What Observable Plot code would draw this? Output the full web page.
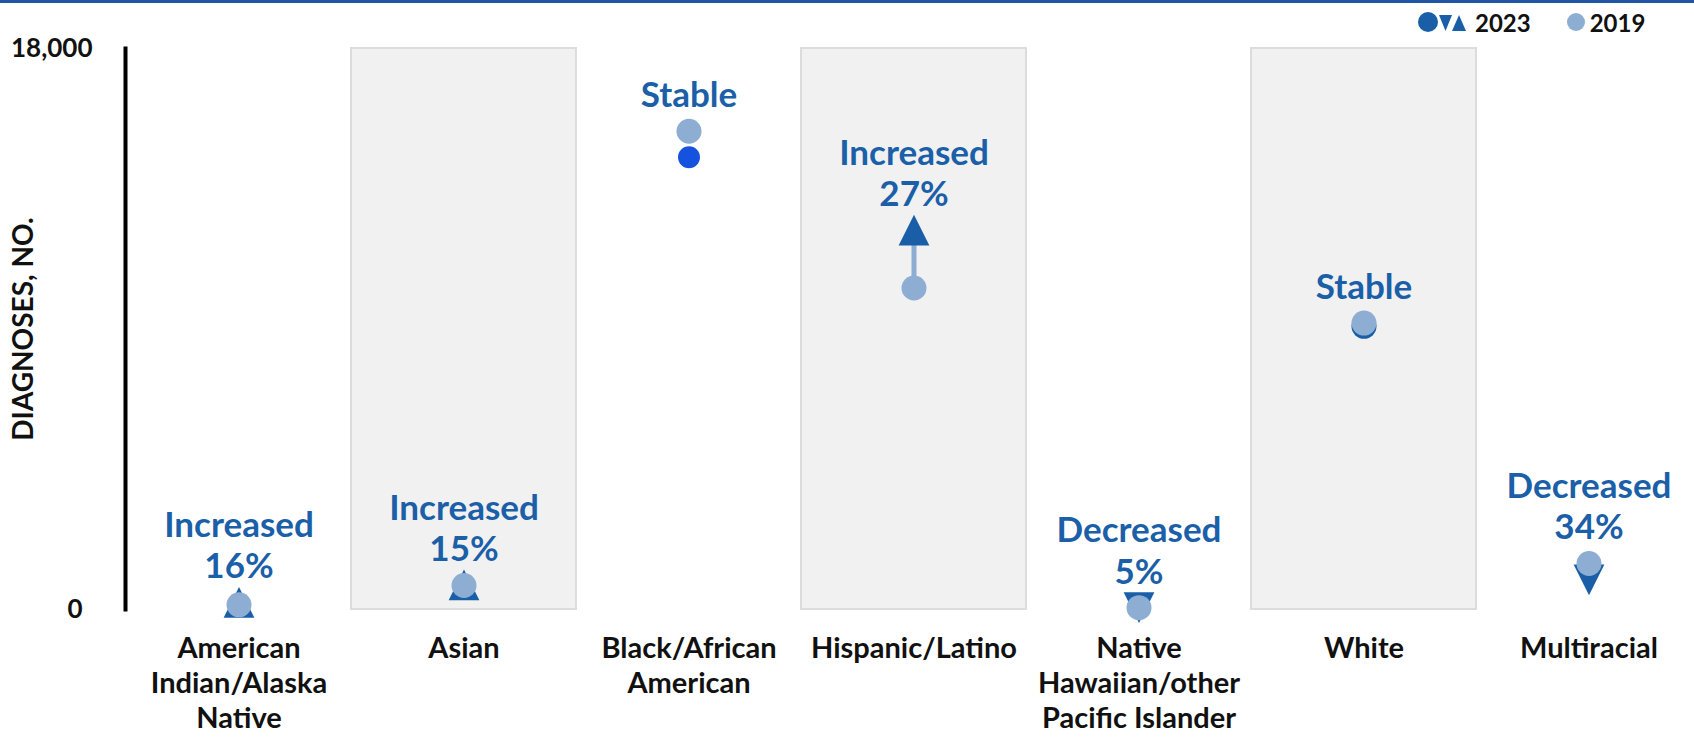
<!DOCTYPE html>
<html><head><meta charset="utf-8">
<script src="https://cdn.jsdelivr.net/npm/d3@7"></script>
<script src="https://cdn.jsdelivr.net/npm/@observablehq/plot@0.6"></script>
<style>
html,body{margin:0;padding:0;background:#fff;}
#wrap{position:relative;width:1694px;height:741px;overflow:hidden;font-family:Lato,"Open Sans",sans-serif;}
#topbar{position:absolute;left:0;top:0;width:1694px;height:3px;background:#1f55a3;z-index:2;}
#legend{position:absolute;top:8px;left:1418px;height:28px;display:flex;align-items:center;font-family:Lato,sans-serif;font-weight:700;font-size:24px;color:#111;z-index:2;}
#legend .item{display:flex;align-items:center;}
#legend svg{display:block;}
#chart{position:absolute;left:0;top:0;}
g[aria-label="y-axis label"]{font-size:28px;}
</style>
</head><body>
<div id="wrap">
  <div id="topbar"></div>
  <div id="chart"></div>
  <div id="legend"></div>
</div>
<script>
// ---- data ----
const categories = ["American Indian/Alaska Native","Asian","Black/African American","Hispanic/Latino","Native Hawaiian/other Pacific Islander","White","Multiracial"];
const tickLabels = ["American\nIndian/Alaska\nNative","Asian","Black/African\nAmerican","Hispanic/Latino","Native\nHawaiian/other\nPacific Islander","White","Multiracial"];
const values2019 = [150, 770, 15345, 10315, 60, 9190, 1477];
const values2023 = [230, 790, 14510, 12170, 57, 9085, 950];
const trends = ["Increased","Increased","Stable","Increased","Decreased","Stable","Decreased"];
const changePct = [16, 15, null, 27, 5, null, 34];
const shadedCategories = ["Asian","Hispanic/Latino","White"];
const yTicks = [0, 18000];
const legendLabels = ["2023","2019"];

const C2019 = "#8dadd3", C2023 = "#1a5ea8", CBLACK23 = "#1553df", CLABEL = "#1b5fa8";
const fmt = d => d.toLocaleString("en-US");

const rows = categories.map((c, i) => ({
  category: c,
  v2019: values2019[i],
  v2023: values2023[i],
  trend: trends[i],
  label: trends[i] + (changePct[i] != null ? "\n" + changePct[i] + "%" : ""),
  top: Math.max(values2019[i], values2023[i])
}));

const triUp = {draw(ctx, size){const s = Math.sqrt(size/Math.PI)*1.23; ctx.moveTo(0,-s); ctx.lineTo(s,s); ctx.lineTo(-s,s); ctx.closePath();}};
const triDown = {draw(ctx, size){const s = Math.sqrt(size/Math.PI)*1.23; ctx.moveTo(0,s); ctx.lineTo(s,-s); ctx.lineTo(-s,-s); ctx.closePath();}};

const chart = Plot.plot({
  width: 1694,
  height: 741,
  marginLeft: 125,
  marginRight: 0,
  marginTop: 48,
  marginBottom: 132,
  style: {fontFamily: "Lato, 'Open Sans', sans-serif", color: "#111", background: "transparent"},
  x: {domain: categories, range: [125, 1702], padding: 0},
  y: {domain: [0, 18000]},
  marks: [
    Plot.cell(shadedCategories, {x: d => d, fill: "#f1f1f1", stroke: "#dcdcdc", strokeWidth: 2, inset: 0}),
    Plot.frame({anchor: "left", stroke: "#000", strokeWidth: 4}),
    Plot.axisX({tickSize: 0, tickPadding: 23, tickFormat: d => tickLabels[categories.indexOf(d)], fontSize: 29, fontWeight: 700, lineHeight: 1.22, label: null}),
    Plot.axisY([yTicks[1]], {tickSize: 0, tickPadding: 33, tickFormat: fmt, fontSize: 26, fontWeight: 700, label: null}),
    Plot.axisY([yTicks[0]], {tickSize: 0, tickPadding: 43, tickFormat: fmt, fontSize: 26, fontWeight: 700, label: "DIAGNOSES, NO.", labelAnchor: "center", labelOffset: 112, labelArrow: "none"}),
    Plot.link(rows.filter(d => d.trend !== "Stable"), {x: "category", y1: "v2019", y2: "v2023", stroke: C2019, strokeWidth: 5}),
    Plot.dot(rows.filter(d => d.trend === "Increased"), {x: "category", y: "v2023", symbol: triUp, r: 12.5, fill: C2023}),
    Plot.dot(rows.filter(d => d.trend === "Decreased"), {x: "category", y: "v2023", symbol: triDown, r: 12.5, fill: C2023}),
    Plot.dot(rows.filter(d => d.trend === "Stable" && d.category === "White"), {x: "category", y: "v2023", r: 12.5, fill: C2023}),
    Plot.dot(rows.filter(d => d.trend === "Stable" && d.category !== "White"), {x: "category", y: "v2023", r: 11, fill: CBLACK23}),
    Plot.dot(rows, {x: "category", y: "v2019", r: 12.5, fill: C2019}),
    Plot.text(rows, {x: "category", y: "top", text: "label", lineAnchor: "bottom", dy: -24, fill: CLABEL, fontWeight: 700, fontSize: 35, lineHeight: 1.18})
  ]
});
document.getElementById("chart").appendChild(chart);

// legend (HTML)
const legend = document.getElementById("legend");
legend.innerHTML =
  `<div class="item"><svg width="50" height="20"><circle cx="10" cy="10" r="10" fill="${C2023}"/><polygon points="21,3 34,3 27.5,19" fill="${C2023}"/><polygon points="34,19 48,19 41,3" fill="${C2023}"/></svg><span style="margin-left:7px">${legendLabels[0]}</span></div>` +
  `<div class="item" style="margin-left:35px"><svg width="20" height="20"><circle cx="10" cy="10" r="9" fill="${C2019}"/></svg><span style="margin-left:4px">${legendLabels[1]}</span></div>`;
</script>
</body></html>
